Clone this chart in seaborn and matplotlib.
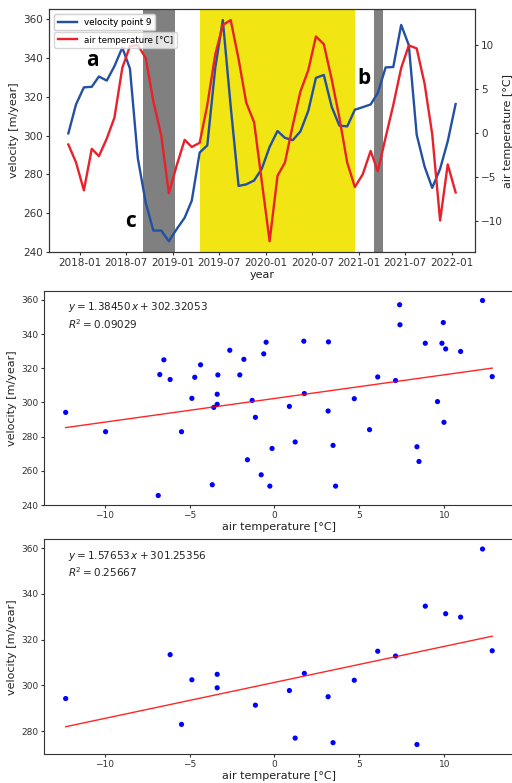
import matplotlib
matplotlib.use("Agg")
import matplotlib.pyplot as plt
import matplotlib.dates as mdates
from matplotlib.lines import Line2D
import numpy as np
import pandas as pd
import seaborn as sns

# Monthly series (mid-month samples)
months = [
    "2017-11", "2017-12",
    "2018-01", "2018-02", "2018-03", "2018-04", "2018-05", "2018-06",
    "2018-07", "2018-08", "2018-09", "2018-10", "2018-11", "2018-12",
    "2019-01", "2019-02", "2019-03", "2019-04", "2019-05", "2019-06",
    "2019-07", "2019-08", "2019-09", "2019-10", "2019-11", "2019-12",
    "2020-01", "2020-02", "2020-03", "2020-04", "2020-05", "2020-06",
    "2020-07", "2020-08", "2020-09", "2020-10", "2020-11", "2020-12",
    "2021-01", "2021-02", "2021-03", "2021-04", "2021-05", "2021-06",
    "2021-07", "2021-08", "2021-09", "2021-10", "2021-11", "2021-12",
    "2022-01",
]
velocity = [
    301.2, 316.1,
    324.9, 325.2, 330.5, 328.4, 335.8, 345.4,
    334.6, 288.4, 265.5, 251.1, 251.1, 245.6,
    251.9, 257.7, 266.5, 291.3, 295.0, 334.6,
    359.6, 315.1, 274.1, 274.9, 276.9, 282.9,
    294.2, 302.4, 298.9, 297.7, 302.2, 312.8,
    329.8, 331.3, 314.9, 305.2, 304.8, 313.4,
    314.7, 316.1, 322.0, 335.2, 335.4, 357.1,
    346.7, 300.5, 284.1, 273.1, 282.9, 297.1,
    316.3,
]
air_temp = [
    -1.31, -3.33,
    -6.51, -1.80, -2.63, -0.63, 1.73, 7.39,
    9.86, 9.98, 8.51, 3.60, -0.27, -6.84,
    -3.66, -0.78, -1.59, -1.12, 3.16, 8.88,
    12.25, 12.82, 8.39, 3.45, 1.22, -5.47,
    -12.29, -4.86, -3.37, 0.88, 4.70, 7.13,
    10.96, 10.08, 6.08, 1.76, -3.37, -6.14,
    -4.69, -2.04, -4.35, -0.49, 3.18, 7.37,
    9.94, 9.60, 5.60, -0.14, -9.94, -3.57,
    -6.75,
]

# Highlighted periods
gray_periods = [("2018-09-03", "2019-01-08"), ("2021-03-01", "2021-04-05")]
yellow_period = ("2019-04-15", "2020-12-15")

# Linear fits reported on the scatter panels
fit_all = (1.38450, 302.32053, 0.09029)
fit_yellow = (1.57653, 301.25356, 0.25667)

df = pd.DataFrame({
    "date": pd.to_datetime([m + "-15" for m in months]),
    "velocity": velocity,
    "temp": air_temp,
})
in_yellow = (df["date"] >= pd.Timestamp(yellow_period[0])) & (df["date"] <= pd.Timestamp(yellow_period[1]))
df_y = df[in_yellow]

plt.rcParams["font.family"] = ["DejaVu Sans"]
plt.rcParams["axes.edgecolor"] = "#333333"
plt.rcParams["xtick.color"] = "#333333"
plt.rcParams["ytick.color"] = "#333333"
plt.rcParams["axes.labelcolor"] = "#222222"
plt.rcParams["xtick.major.size"] = 2.5
plt.rcParams["ytick.major.size"] = 2.5
plt.rcParams["xtick.major.pad"] = 1.8
plt.rcParams["ytick.major.pad"] = 1.8

BLUE = "#2450a4"
RED = "#e8212b"

fig = plt.figure(figsize=(5.12, 7.83), dpi=100)

# ---- time series panel ----
ax1 = fig.add_axes([0.0957, 0.6778, 0.832, 0.3107])
ax2 = ax1.twinx()

for a, b in gray_periods:
    ax1.axvspan(pd.Timestamp(a), pd.Timestamp(b), color="#808080", zorder=0, lw=0)
ax1.axvspan(pd.Timestamp(yellow_period[0]), pd.Timestamp(yellow_period[1]),
            color="#f1e513", zorder=0, lw=0)

sns.lineplot(data=df, x="date", y="velocity", ax=ax1, color=BLUE, lw=1.7, legend=False)
sns.lineplot(data=df, x="date", y="temp", ax=ax2, color=RED, lw=1.7, legend=False)

ax1.set_yticks([240, 260, 280, 300, 320, 340, 360])
ax2.set_yticks([-10, -5, 0, 5, 10])
ax1.xaxis.set_major_locator(mdates.MonthLocator(bymonth=[1, 7]))
ax1.xaxis.set_major_formatter(mdates.DateFormatter("%Y-%m"))
ax1.tick_params(labelsize=7.5)
ax2.tick_params(labelsize=7.5)
ax1.set_xlabel("year", fontsize=8, labelpad=1.5)
ax1.set_ylabel("velocity [m/year]", fontsize=8, labelpad=3)
ax2.set_ylabel("air temperature [°C]", fontsize=8, labelpad=0.3)

leg1 = ax1.legend([Line2D([], [], color=BLUE, lw=1.7)], ["velocity point 9"],
                  loc="upper left", fontsize=6.3, borderaxespad=0.6, handlelength=2.2)
ax1.add_artist(leg1)
leg1.set_zorder(10)
leg2 = ax2.legend([Line2D([], [], color=RED, lw=1.7)], ["air temperature [°C]"],
                  loc="upper left", bbox_to_anchor=(0, 0.927), fontsize=6.3,
                  borderaxespad=0.6, handlelength=2.2)

for txt, x, y in [("a", 0.103, 0.790), ("c", 0.192, 0.125), ("b", 0.739, 0.716)]:
    ax1.text(x, y, txt, transform=ax1.transAxes, fontsize=15, fontweight="bold",
             family=["Open Sans", "DejaVu Sans"], ha="center", va="center", color="black")

# ---- scatter panels ----
def scatter_panel(ax, data, fit):
    slope, intercept, r2 = fit
    sns.scatterplot(data=data, x="temp", y="velocity", ax=ax, color="blue",
                    s=14, edgecolor="none", legend=False)
    xs = np.sort(data["temp"].to_numpy())
    ax.plot(xs, slope * xs + intercept, color="red", lw=1.0, alpha=0.85)
    ax.text(0.05, 0.955,
            f"$y = {slope:.5f}\\,x + {intercept:.5f}$\n$R^2 = {r2:.5f}$",
            transform=ax.transAxes, fontsize=7.5, va="top", ha="left", color="#222222")
    ax.set_xlabel("air temperature [°C]", fontsize=8, labelpad=1.5)
    ax.set_ylabel("velocity [m/year]", fontsize=8, labelpad=3)
    ax.tick_params(labelsize=6.5)
    ax.set_xticks([-10, -5, 0, 5, 10])

ax3 = fig.add_axes([0.0866, 0.3547, 0.9164, 0.2740])
scatter_panel(ax3, df, fit_all)
ax3.set_yticks([240, 260, 280, 300, 320, 340, 360])

ax4 = fig.add_axes([0.0866, 0.0367, 0.9164, 0.2746])
scatter_panel(ax4, df_y, fit_yellow)
ax4.set_yticks([280, 300, 320, 340, 360])

fig.savefig("out.png", dpi=100)
